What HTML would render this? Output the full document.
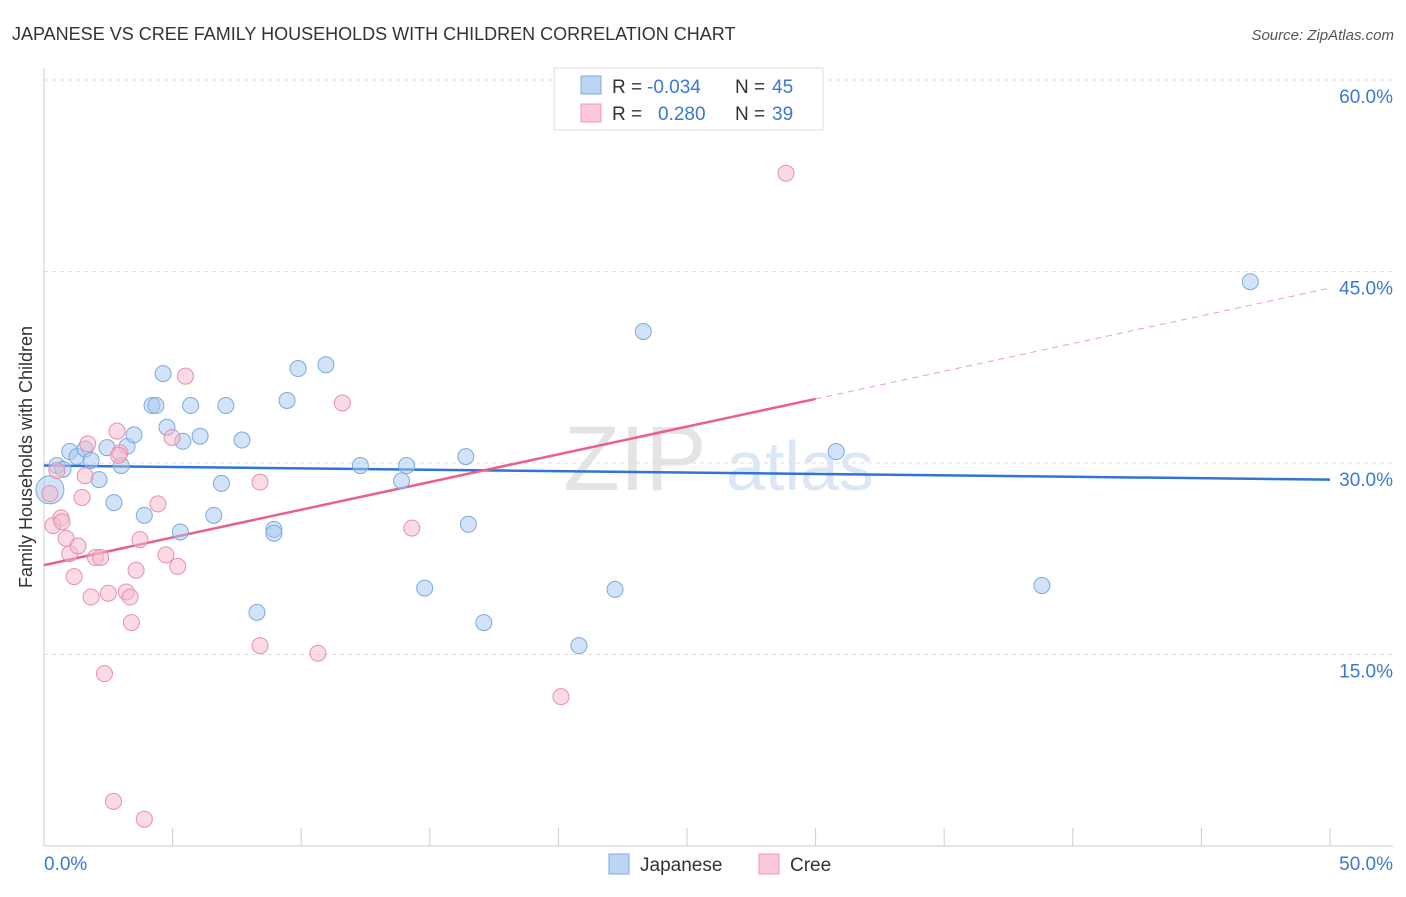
<!DOCTYPE html>
<html><head><meta charset="utf-8">
<style>
body{margin:0;background:#fff;font-family:"Liberation Sans",sans-serif;}
svg text{font-family:"Liberation Sans",sans-serif;}
</style></head>
<body>
<svg id="chart" width="1406" height="892" xmlns="http://www.w3.org/2000/svg">
<text x="12" y="40" font-size="18" fill="#333">JAPANESE VS CREE FAMILY HOUSEHOLDS WITH CHILDREN CORRELATION CHART</text>
<text x="1394" y="40" font-size="15" fill="#555" font-style="italic" text-anchor="end">Source: ZipAtlas.com</text>
<text x="32" y="457" font-size="18" fill="#333" text-anchor="middle" transform="rotate(-90 32 457)">Family Households with Children</text>
<g>
<text x="635" y="490" font-size="92" fill="#e4e4e4" font-family="Liberation Serif" text-anchor="middle">ZIP</text>
<text x="800" y="490" font-size="70" fill="#dce7f5" text-anchor="middle">atlas</text>
</g>
<g id="grid"></g>
<g id="axes"></g>
<g id="trends"></g>
<g id="points"></g>
<g>
<rect x="554" y="68" width="269" height="62" fill="#fff" stroke="#ddd"/>
<rect x="581" y="76" width="20" height="18" fill="#bcd5f5" stroke="#7aaae0"/>
<rect x="581" y="104" width="20" height="18" fill="#fbc8d8" stroke="#eb9ab4"/>
<text x="612" y="93" font-size="19" fill="#333">R = </text><text x="647" y="93" font-size="19" fill="#3a78d4">-0.034</text>
<text x="735" y="93" font-size="19" fill="#333">N = </text><text x="772" y="93" font-size="19" fill="#3a78d4">45</text>
<text x="612" y="120" font-size="19" fill="#333">R = </text><text x="658" y="120" font-size="19" fill="#3a78d4">0.280</text>
<text x="735" y="120" font-size="19" fill="#333">N = </text><text x="772" y="120" font-size="19" fill="#3a78d4">39</text>
</g>
<g>
<rect x="609" y="854" width="20" height="20" fill="#bcd5f5" stroke="#7aaae0"/>
<text x="640" y="871" font-size="19" fill="#333">Japanese</text>
<rect x="759" y="854" width="20" height="20" fill="#fbc8d8" stroke="#eb9ab4"/>
<text x="790" y="871" font-size="19" fill="#333">Cree</text>
</g>
</svg>
<script>
const yTicks=[15,30,45,60];
const yTickLabels=["15.0%","30.0%","45.0%","60.0%"];
const xTicks=[0,5,10,15,20,25,30,35,40,45,50];
const japaneseX=[0.23,0.5,0.74,1.0,1.28,1.6,1.83,2.14,2.45,2.72,3.0,3.23,3.5,3.9,4.2,4.35,4.63,4.78,5.3,5.4,5.7,6.07,6.6,6.9,7.07,7.7,8.28,8.94,8.94,9.45,9.88,10.96,12.3,13.9,14.1,14.8,16.4,16.5,17.1,20.8,22.2,23.3,30.8,38.8,46.9];
const japaneseY=[27.9,29.8,29.5,30.9,30.5,31.1,30.2,28.7,31.2,26.9,29.8,31.3,32.2,25.9,34.5,34.5,37.0,32.8,24.6,31.7,34.5,32.1,25.9,28.4,34.5,31.8,18.3,24.8,24.5,34.9,37.4,37.7,29.8,28.6,29.8,20.2,30.5,25.2,17.5,15.7,20.1,40.3,30.9,20.4,44.2];
const creeX=[0.23,0.35,0.66,0.86,1.0,1.17,1.32,1.48,1.6,1.7,1.83,2.0,2.2,2.35,2.5,2.7,2.84,2.95,3.2,3.35,3.4,3.58,3.73,3.9,4.43,4.74,4.98,5.2,5.5,8.4,8.4,10.65,11.6,14.3,20.1,28.85,0.5,0.7,2.9];
const creeY=[27.6,25.1,25.7,24.1,22.9,21.1,23.5,27.3,29.0,31.5,19.5,22.6,22.6,13.5,19.8,3.5,32.5,30.8,19.9,19.5,17.5,21.6,24.0,2.1,26.8,22.8,32.0,21.9,36.8,28.5,15.7,15.1,34.7,24.9,11.7,52.7,29.4,25.4,30.6];
const japaneseTrend=[29.8,28.7]; // at x=0 and x=50
const creeTrend=[22.0,43.7];     // at x=0 and x=50
const creeSolidEnd=30;
const NS="http://www.w3.org/2000/svg";
const X=v=>44+v*(1330-44)/50;
const Y=v=>846-v*(191.5/15);
function mk(tag,attrs,parent){const e=document.createElementNS(NS,tag);for(const k in attrs)e.setAttribute(k,attrs[k]);parent.appendChild(e);return e;}
const grid=document.getElementById('grid'),axes=document.getElementById('axes');
yTicks.forEach((t,i)=>{
 const l=mk('line',{x1:44,x2:1393,y1:Y(t),y2:Y(t),stroke:'#ddd','stroke-dasharray':'4 4'},grid);
 
 
 const tx=mk('text',{x:1393,y:Y(t)+23,'font-size':19,fill:'#3a78d4','text-anchor':'end'},axes);
 tx.textContent=yTickLabels[i];
 
 
});
const ya=mk('line',{x1:44,x2:44,y1:68,y2:846,stroke:'#ccc'},axes);


const xa=mk('line',{x1:44,x2:1393,y1:846,y2:846,stroke:'#ccc'},axes);


xTicks.forEach(t=>{
 const l=mk('line',{x1:X(t),x2:X(t),y1:828,y2:846,stroke:'#ccc'},axes);
 
 
});
const xl0=mk('text',{x:44,y:870,'font-size':19,fill:'#3a78d4'},axes);xl0.textContent='0.0%';


const xl1=mk('text',{x:1393,y:870,'font-size':19,fill:'#3a78d4','text-anchor':'end'},axes);xl1.textContent='50.0%';


const pts=document.getElementById('points');
japaneseX.forEach((x,i)=>{
 const c=mk('circle',{cx:X(x),cy:Y(japaneseY[i]),r:i===0?14:8,fill:'rgba(168,200,240,0.5)',stroke:'#7aaae0','stroke-width':1},pts);
 
 
});
creeX.forEach((x,i)=>{
 const c=mk('circle',{cx:X(x),cy:Y(creeY[i]),r:8,fill:'rgba(245,184,204,0.5)',stroke:'#e890aa','stroke-width':1},pts);
 
 
});
const tr=document.getElementById('trends');
const jt=mk('line',{x1:X(0),y1:Y(japaneseTrend[0]),x2:X(50),y2:Y(japaneseTrend[1]),stroke:'#2f74d6','stroke-width':2.5},tr);


const cAt=x=>creeTrend[0]+(creeTrend[1]-creeTrend[0])*x/50;
const ct=mk('line',{x1:X(0),y1:Y(cAt(0)),x2:X(creeSolidEnd),y2:Y(cAt(creeSolidEnd)),stroke:'#e8608c','stroke-width':2.5},tr);


const cd=mk('line',{x1:X(creeSolidEnd),y1:Y(cAt(creeSolidEnd)),x2:X(50),y2:Y(cAt(50)),stroke:'#e8a0b8','stroke-width':1,'stroke-dasharray':'6 5'},tr);


</script>
</body></html>
